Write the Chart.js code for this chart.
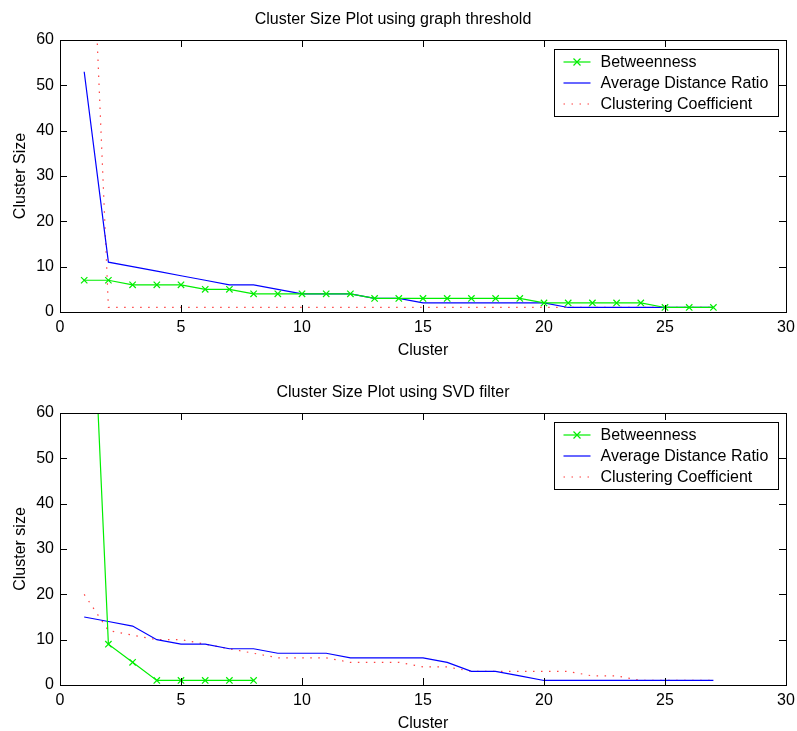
<!DOCTYPE html>
<html>
<head>
<meta charset="utf-8">
<script src="https://cdn.jsdelivr.net/npm/chart.js@4/dist/chart.umd.min.js"></script>
<style>
  html, body { margin: 0; padding: 0; background: #fff; overflow: hidden; }
  .plot { position: absolute; left: 0; width: 797px; height: 360px; }
  #top { top: 0; }
  #bottom { top: 373px; }
</style>
</head>
<body>
<div class="plot" id="top"><canvas id="thresholdChart"></canvas></div>
<div class="plot" id="bottom"><canvas id="svdChart"></canvas></div>
<script>
// cluster index along x
const clusters = [1,2,3,4,5,6,7,8,9,10,11,12,13,14,15,16,17,18,19,20,21,22,23,24,25,26,27];

// graph threshold plot
const thrBetweenness = [7,7,6,6,6,5,5,4,4,4,4,4,3,3,3,3,3,3,3,2,2,2,2,2,1,1,1];
const thrAvgDistance = [53,11,10,9,8,7,6,6,5,4,4,4,3,3,2,2,2,2,2,2,1,1,1,1,1,1,1];
const thrClustering  = [128,1,1,1,1,1,1,1,1,1,1,1,1,1,1,1,1,1,1,1,1,1,1,1,1,1,1];

// SVD filter plot
const svdBetweenness = [129,9,5,1,1,1,1,1];
const svdAvgDistance = [15,14,13,10,9,9,8,8,7,7,7,6,6,6,6,5,3,3,2,1,1,1,1,1,1,1,1];
const svdClustering  = [20,12,11,10,10,9,8,7,6,6,6,5,5,5,4,4,3,3,3,3,3,2,2,1,1,1,1];

const xTicks = [0,5,10,15,20,25,30];
const yTicks = [0,10,20,30,40,50,60];

const FONT = '"Liberation Sans", Arial, Helvetica, sans-serif';
const font16 = { family: FONT, size: 16 };

const pts = (vals) => vals.map((v, i) => ({ x: clusters[i], y: v }));

// MATLAB-like box with inward ticks
const boxPlugin = {
  id: 'box',
  afterDatasetsDraw(chart) {
    const { ctx, chartArea: a, scales: { x, y } } = chart;
    const len = 7;
    ctx.save();
    ctx.strokeStyle = '#000';
    ctx.lineWidth = 1;
    ctx.beginPath();
    xTicks.forEach(t => {
      const px = Math.round(x.getPixelForValue(t)) + 0.5;
      ctx.moveTo(px, a.bottom); ctx.lineTo(px, a.bottom - len);
      ctx.moveTo(px, a.top); ctx.lineTo(px, a.top + len);
    });
    yTicks.forEach(t => {
      const py = Math.round(y.getPixelForValue(t)) + 0.5;
      ctx.moveTo(a.left, py); ctx.lineTo(a.left + len, py);
      ctx.moveTo(a.right, py); ctx.lineTo(a.right - len, py);
    });
    ctx.stroke();
    ctx.strokeRect(Math.round(a.left) + 0.5, Math.round(a.top) + 0.5,
                   Math.round(a.right - a.left), Math.round(a.bottom - a.top));
    ctx.restore();
  }
};

// legend box drawn inside the axes, top right
const boxLegend = {
  id: 'boxLegend',
  afterDraw(chart) {
    const { ctx, chartArea: a } = chart;
    const w = 224, h = 67;
    const left = Math.round(a.right - 232) + 0.5, top = Math.round(a.top + 9) + 0.5;
    ctx.save();
    ctx.fillStyle = '#fff';
    ctx.fillRect(left, top, w, h);
    ctx.strokeStyle = '#000';
    ctx.lineWidth = 1;
    ctx.strokeRect(left, top, w, h);
    ctx.font = '16px ' + FONT;
    ctx.textBaseline = 'middle';
    chart.data.datasets.forEach((ds, i) => {
      const cy = Math.round(top + 12.5 + i * 20.8);
      ctx.strokeStyle = ds.borderColor;
      ctx.lineWidth = ds.borderWidth;
      ctx.setLineDash(ds.borderDash || []);
      ctx.beginPath();
      ctx.moveTo(left + 9, cy); ctx.lineTo(left + 36, cy);
      ctx.stroke();
      ctx.setLineDash([]);
      if (ds.pointRadius > 0) {
        const r = 3.5, mx = left + 22.5;
        ctx.beginPath();
        ctx.moveTo(mx - r, cy - r); ctx.lineTo(mx + r, cy + r);
        ctx.moveTo(mx - r, cy + r); ctx.lineTo(mx + r, cy - r);
        ctx.stroke();
      }
      ctx.fillStyle = '#000';
      ctx.fillText(ds.label, left + 46, cy + 1);
    });
    ctx.restore();
  }
};

function makeChart(id, title, yTitle, betw, avg, clus) {
  return new Chart(document.getElementById(id), {
    type: 'line',
    data: {
      datasets: [
        { label: 'Betweenness', data: pts(betw), borderColor: '#00ee00', borderWidth: 1.2,
          pointStyle: 'crossRot', pointRadius: 4.5, pointBorderColor: '#00ee00', pointBorderWidth: 1.2 },
        { label: 'Average Distance Ratio', data: pts(avg), borderColor: '#0000ff', borderWidth: 1.2,
          pointRadius: 0 },
        { label: 'Clustering Coefficient', data: pts(clus), borderColor: '#ff4040', borderWidth: 1.2,
          borderDash: [1.5, 6.5], pointRadius: 0 },
      ],
    },
    options: {
      responsive: true, maintainAspectRatio: false, animation: false,
      layout: { padding: { left: 0, right: 11, top: 0, bottom: 0 } },
      plugins: {
        legend: { display: false },
        tooltip: { enabled: false },
        title: { display: true, text: title, color: '#000', font: { ...font16, weight: 'normal' },
                 padding: { top: 10, bottom: 10.8 } },
      },
      scales: {
        x: {
          type: 'linear', min: 0, max: 30,
          afterBuildTicks: s => { s.ticks = xTicks.map(v => ({ value: v })); },
          afterFit: s => { s.height = 48; s.paddingRight = 0; s.paddingLeft = 0; },
          grid: { display: false, drawTicks: false },
          border: { display: false },
          ticks: { color: '#000', font: font16, padding: 6, maxRotation: 0 },
          title: { display: true, text: 'Cluster', color: '#000', font: font16, padding: { top: 0, bottom: 0 } },
        },
        y: {
          type: 'linear', min: 0, max: 60,
          afterBuildTicks: s => { s.ticks = yTicks.map(v => ({ value: v })); },
          afterFit: s => { s.width = 60; s.paddingTop = 0; s.paddingBottom = 0; },
          grid: { display: false, drawTicks: false },
          border: { display: false },
          ticks: { color: '#000', font: font16, padding: 6 },
          title: { display: true, text: yTitle, color: '#000', font: font16, padding: { top: 11, bottom: 0 } },
        },
      },
    },
    plugins: [boxPlugin, boxLegend],
  });
}

makeChart('thresholdChart', 'Cluster Size Plot using graph threshold', 'Cluster Size',
          thrBetweenness, thrAvgDistance, thrClustering);
makeChart('svdChart', 'Cluster Size Plot using SVD filter', 'Cluster size',
          svdBetweenness, svdAvgDistance, svdClustering);
</script>
</body>
</html>
